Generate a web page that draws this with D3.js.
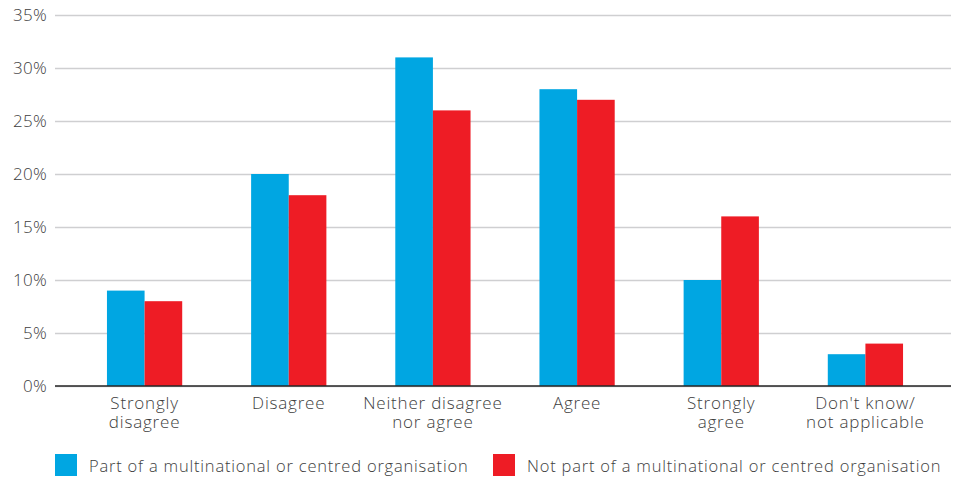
<!DOCTYPE html>
<html>
<head>
<meta charset="utf-8">
<script src="https://cdn.jsdelivr.net/npm/d3@7"></script>
<style>
  html, body { margin: 0; padding: 0; background: #fff; }
  svg { display: block; font-family: "Open Sans", "Noto Sans", sans-serif; }
</style>
</head>
<body>
<svg id="chart" width="959" height="477"></svg>
<script>
// Response categories (multi-line labels)
const categories = [
  ["Strongly", "disagree"],
  ["Disagree"],
  ["Neither disagree", "nor agree"],
  ["Agree"],
  ["Strongly", "agree"],
  ["Don't know/", "not applicable"]
];
const seriesNames = [
  "Part of a multinational or centred organisation",
  "Not part of a multinational or centred organisation"
];
const partOfMultinational = [9, 20, 31, 28, 10, 3];
const notPartOfMultinational = [8, 18, 26, 27, 16, 4];
const yTicks = [0, 5, 10, 15, 20, 25, 30, 35];
const colors = ["#00a6e2", "#ee1c25"];

const svg = d3.select("#chart");
const gridLeft = 55, gridRight = 951;
const baseY = 386, topY = 15;
const textColor = "#3d3d3d";

const x0 = d3.scaleBand()
  .domain(d3.range(categories.length))
  .range([72.5, 937.5])
  .paddingInner(0.478)
  .paddingOuter(0.239);
const x1 = d3.scaleBand().domain([0, 1]).range([0, x0.bandwidth()]);
const y = d3.scaleLinear().domain([0, 35]).range([baseY, topY]);

// Gridlines and y-axis labels
const yAxis = d3.axisLeft(y).tickValues(yTicks).tickFormat(d => d + "%")
  .tickSize(-(gridRight - gridLeft)).tickPadding(8);
const gy = svg.append("g").attr("transform", `translate(${gridLeft},0)`).call(yAxis);
gy.select(".domain").remove();
gy.selectAll(".tick line").attr("stroke", "#cfcfd1").attr("stroke-width", 1.3);
gy.selectAll(".tick text").attr("fill", textColor).attr("font-size", 17)
  .attr("font-family", "'Open Sans', sans-serif").attr("font-weight", 300)
  .attr("letter-spacing", 0.3);

// Bars
const data = categories.map((c, i) => [partOfMultinational[i], notPartOfMultinational[i]]);
const groups = svg.append("g").selectAll("g").data(data).join("g")
  .attr("transform", (d, i) => `translate(${x0(i)},0)`);
groups.selectAll("rect").data(d => d).join("rect")
  .attr("x", (d, j) => x1(j))
  .attr("width", x1.bandwidth())
  .attr("y", d => y(d))
  .attr("height", d => baseY - y(d))
  .attr("fill", (d, j) => colors[j]);

// Baseline
svg.append("line")
  .attr("x1", gridLeft).attr("x2", gridRight)
  .attr("y1", baseY).attr("y2", baseY)
  .attr("stroke", "#262626").attr("stroke-width", 1.5);

// Category labels
const labels = svg.append("g").selectAll("text").data(categories).join("text")
  .attr("text-anchor", "middle")
  .attr("fill", textColor)
  .attr("font-size", 17)
  .attr("font-weight", 300)
  .attr("letter-spacing", 0.8)
  .attr("x", (d, i) => x0(i) + x0.bandwidth() / 2)
  .attr("y", 409);
labels.selectAll("tspan").data(d => d).join("tspan")
  .attr("x", function() { return this.parentNode.getAttribute("x"); })
  .attr("dy", (d, k) => k === 0 ? 0 : 19)
  .text(d => d);

// Legend
const legendX = [55, 493];
const legend = svg.append("g").selectAll("g").data(seriesNames).join("g")
  .attr("transform", (d, i) => `translate(${legendX[i]},454)`);
legend.append("rect").attr("width", 22).attr("height", 22)
  .attr("fill", (d, i) => colors[i]);
legend.append("text").attr("x", 34).attr("y", 17.5)
  .attr("fill", textColor).attr("font-size", 16.5).attr("font-weight", 300)
  .attr("letter-spacing", 0.8)
  .text(d => d);
</script>
</body>
</html>
